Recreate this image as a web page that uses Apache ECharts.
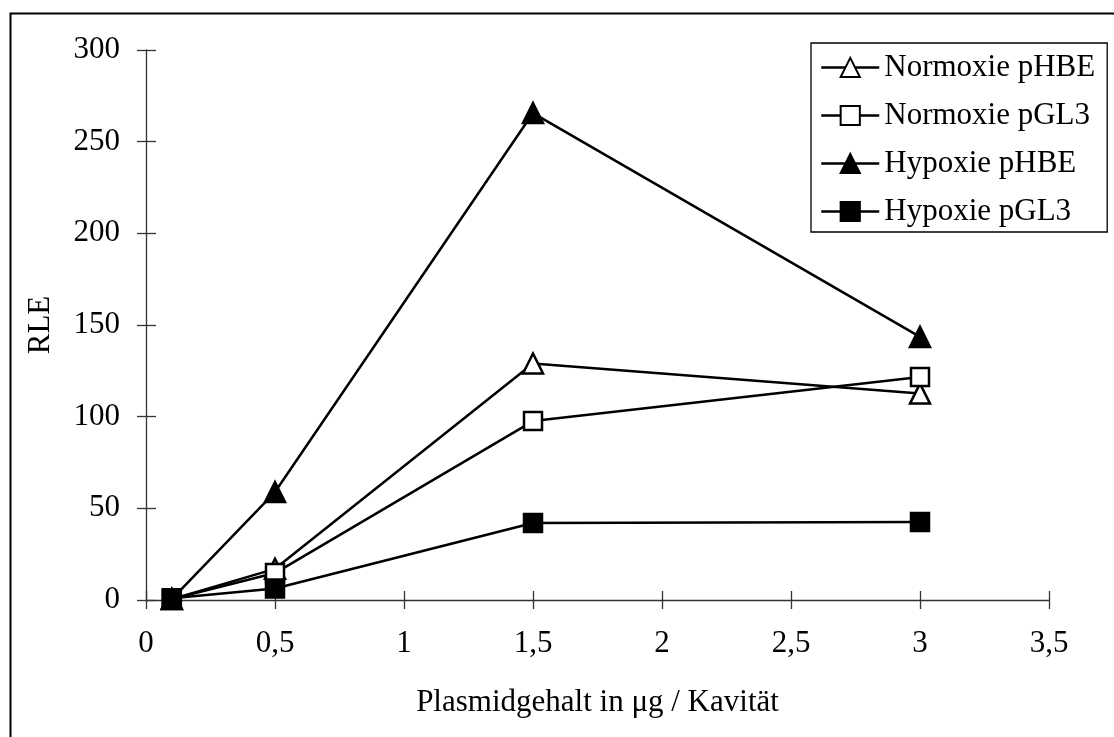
<!DOCTYPE html>
<html>
<head>
<meta charset="utf-8">
<script src="https://cdn.jsdelivr.net/npm/echarts@6/dist/echarts.min.js"></script>
<style>html,body{margin:0;padding:0;background:#fff}#c{width:1114px;height:737px}</style>
</head>
<body>
<div id="c"></div>
<script>
const xValues = [0.1, 0.5, 1.5, 3];
const normoxiePHBE = [0.5, 17, 129, 112.6];
const normoxiePGL3 = [0.5, 14.7, 97.6, 121.6];
const hypoxiePHBE = [0.5, 58.9, 265.6, 143.5];
const hypoxiePGL3 = [1, 6.3, 42, 42.5];
const seriesNames = ['Normoxie pHBE', 'Normoxie pGL3', 'Hypoxie pHBE', 'Hypoxie pGL3'];
const xTickLabels = {0: '0', 0.5: '0,5', 1: '1', 1.5: '1,5', 2: '2', 2.5: '2,5', 3: '3', 3.5: '3,5'};
const yTickLabels = ['0', '50', '100', '150', '200', '250', '300'];

const FONT = '"Liberation Serif", "Times New Roman", serif';
const FS = 31;
const pairs = arr => xValues.map((x, i) => [x, arr[i]]);

function mk(name, data, symbol, filled, size) {
  return {
    name, type: 'line', data: pairs(data),
    xAxisIndex: 0, yAxisIndex: 0,
    symbol, symbolSize: size, showAllSymbol: true,
    lineStyle: {color: '#000', width: 2.5},
    itemStyle: {color: filled ? '#000' : '#fff', borderColor: '#000', borderWidth: 2.5},
    emphasis: {disabled: true},
    animation: false, z: 3
  };
}

const axisLine = {show: true, lineStyle: {color: '#333', width: 1.3}};
const chart = echarts.init(document.getElementById('c'));
chart.setOption({
  animation: false,
  backgroundColor: '#fff',
  textStyle: {fontFamily: FONT, color: '#000'},
  grid: {left: 146, right: 65, top: 50, bottom: 137},
  graphic: [{
    type: 'rect', left: 8, top: 11, shape: {width: 1200, height: 800},
    style: {fill: 'none', stroke: '#000', lineWidth: 2}, silent: true
  }],
  legend: {
    orient: 'vertical', left: 811, top: 43,
    data: seriesNames,
    itemWidth: 58, itemHeight: 24, itemGap: 17, itemTextGap: 7,
    padding: [9, 12, 5, 9],
    borderColor: '#000', borderWidth: 1.3, backgroundColor: '#fff',
    lineStyle: {width: 2.5, color: '#000'},
    textStyle: {fontFamily: FONT, fontSize: FS, color: '#000', lineHeight: 30},
    selectedMode: false
  },
  xAxis: [{
    type: 'value', min: 0, max: 3.5, interval: 0.5,
    name: 'Plasmidgehalt in μg / Kavität', nameLocation: 'middle', nameGap: 87,
    nameTextStyle: {fontFamily: FONT, fontSize: FS, color: '#000'},
    axisLine, splitLine: {show: false},
    axisTick: {show: true, inside: false, length: 9, lineStyle: {color: '#333', width: 1.3}},
    axisLabel: {fontFamily: FONT, fontSize: FS, color: '#000', margin: 28,
      formatter: v => xTickLabels[v] !== undefined ? xTickLabels[v] : String(v)}
  }, {
    type: 'value', min: 0, max: 3.5, interval: 0.5, position: 'bottom',
    axisLine: {show: false}, splitLine: {show: false}, axisLabel: {show: false},
    axisTick: {show: true, inside: true, length: 9, lineStyle: {color: '#333', width: 1.3}}
  }],
  yAxis: [{
    type: 'value', min: 0, max: 300, interval: 50,
    name: 'RLE', nameLocation: 'middle', nameGap: 90, nameRotate: 90,
    nameTextStyle: {fontFamily: FONT, fontSize: FS, color: '#000'},
    axisLine, splitLine: {show: false},
    axisTick: {show: true, inside: false, length: 9, lineStyle: {color: '#333', width: 1.3}},
    axisLabel: {fontFamily: FONT, fontSize: FS, color: '#000', margin: 26,
      formatter: v => yTickLabels[Math.round(v / 50)]}
  }, {
    type: 'value', min: 0, max: 300, interval: 50, position: 'left',
    axisLine: {show: false}, splitLine: {show: false}, axisLabel: {show: false},
    axisTick: {show: true, inside: true, length: 10, lineStyle: {color: '#333', width: 1.3}}
  }],
  series: [
    mk(seriesNames[0], normoxiePHBE, 'triangle', false, 20),
    mk(seriesNames[1], normoxiePGL3, 'rect', false, 18),
    mk(seriesNames[2], hypoxiePHBE, 'triangle', true, 20),
    mk(seriesNames[3], hypoxiePGL3, 'rect', true, 18)
  ]
});
</script>
</body>
</html>
